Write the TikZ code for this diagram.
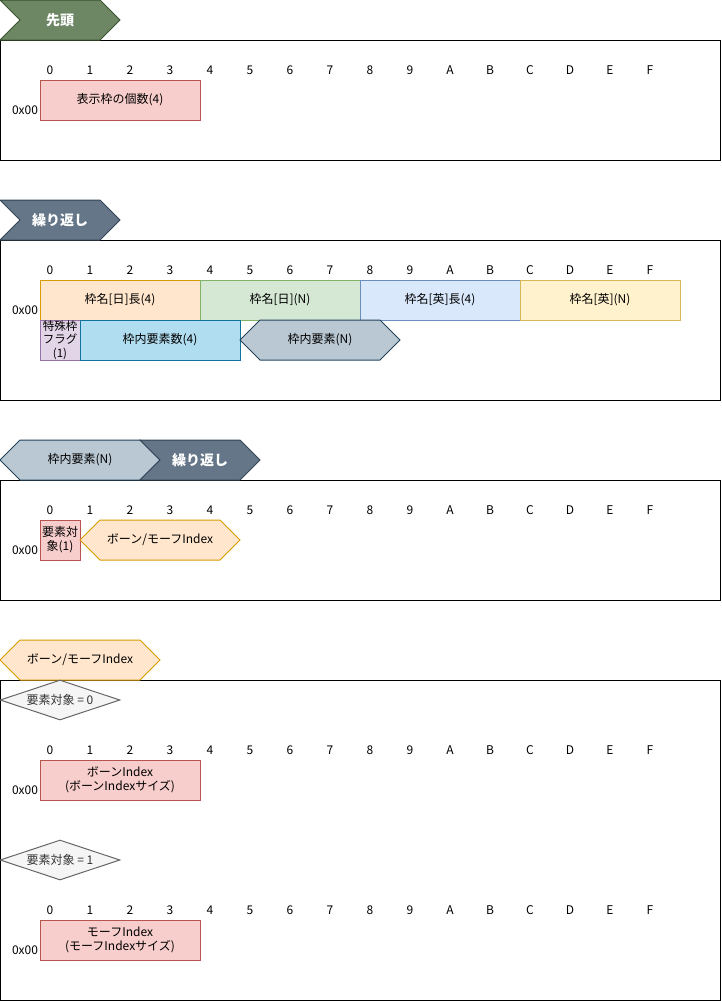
\documentclass[tikz,border=0pt]{standalone}
\usepackage{fontspec}
\setmainfont{Noto Sans CJK JP}
\usetikzlibrary{shapes.geometric}

\definecolor{redfill}{HTML}{F8CECC}
\definecolor{redline}{HTML}{B85450}
\definecolor{orafill}{HTML}{FFE6CC}
\definecolor{oraline}{HTML}{D79B00}
\definecolor{grnfill}{HTML}{D5E8D4}
\definecolor{grnline}{HTML}{82B366}
\definecolor{blufill}{HTML}{DAE8FC}
\definecolor{bluline}{HTML}{6C8EBF}
\definecolor{yelfill}{HTML}{FFF2CC}
\definecolor{yelline}{HTML}{D6B656}
\definecolor{purfill}{HTML}{E1D5E7}
\definecolor{purline}{HTML}{9673A6}
\definecolor{cyafill}{HTML}{B1DDF0}
\definecolor{cyaline}{HTML}{10739E}
\definecolor{gryfill}{HTML}{BAC8D3}
\definecolor{gryline}{HTML}{23445D}
\definecolor{olvfill}{HTML}{6D8764}
\definecolor{olvline}{HTML}{3A5431}
\definecolor{slafill}{HTML}{647687}
\definecolor{slaline}{HTML}{314354}

\begin{document}
\begin{tikzpicture}[x=1pt,y=-1pt,font=\fontsize{12}{14}\selectfont,
    fld/.style={draw,line width=1pt,minimum height=40pt,inner sep=1pt,align=center},
    tagtext/.style={text=white,font=\fontsize{14}{16}\selectfont\bfseries},
    cond/.style={diamond,draw=black!60,fill=black!4,text=black!80,line width=1pt,
        minimum width=120pt,minimum height=40pt,inner sep=0pt,aspect=3}]
    \useasboundingbox (0,0) rectangle (721,1001);

    % ---- 先頭 ----
    \draw[line width=1pt] (0.5,40.5) rectangle (720.5,160.5);
    \draw[fill=olvfill,draw=olvline,line width=1pt] (0,0) -- (100,0) -- (120,20) -- (100,40) -- (0,40) -- (20,20) -- cycle;
    \node[tagtext] (head) at (60,20) {先頭};
    \foreach \c [count=\i from 0] in {0,1,2,3,4,5,6,7,8,9,A,B,C,D,E,F}
        \node (ha\i) at ({50+40*\i},70) {\c};
    \node (adra) at (25,110) {0x00};
    \node[fld,fill=redfill,draw=redline,minimum width=160pt] (count) at (120,100) {表示枠の個数(4)};

    % ---- 繰り返し (表示枠) ----
    \draw[line width=1pt] (0.5,240.5) rectangle (720.5,400.5);
    \draw[fill=slafill,draw=slaline,line width=1pt] (0,200) -- (100,200) -- (120,220) -- (100,240) -- (0,240) -- (20,220) -- cycle;
    \node[tagtext] (rep1) at (60,220) {繰り返し};
    \foreach \c [count=\i from 0] in {0,1,2,3,4,5,6,7,8,9,A,B,C,D,E,F}
        \node (hb\i) at ({50+40*\i},270) {\c};
    \node (adrb) at (25,310) {0x00};
    \node[fld,fill=orafill,draw=oraline,minimum width=160pt] (jlen) at (120,300) {枠名[日]長(4)};
    \node[fld,fill=grnfill,draw=grnline,minimum width=160pt] (jname) at (280,300) {枠名[日](N)};
    \node[fld,fill=blufill,draw=bluline,minimum width=160pt] (elen) at (440,300) {枠名[英]長(4)};
    \node[fld,fill=yelfill,draw=yelline,minimum width=160pt] (ename) at (600,300) {枠名[英](N)};
    \node[fld,fill=purfill,draw=purline,minimum width=40pt,inner sep=0pt,
        font=\fontsize{11.5}{13.5}\selectfont] (flag) at (60,340) {特殊枠\\フラグ\\(1)};
    \node[fld,fill=cyafill,draw=cyaline,minimum width=160pt] (ecount) at (160,340) {枠内要素数(4)};
    \draw[fill=gryfill,draw=gryline,line width=1pt] (240,340) -- (260,320) -- (380,320) -- (400,340) -- (380,360) -- (260,360) -- cycle;
    \node (elems) at (320,340) {枠内要素(N)};

    % ---- 枠内要素 ----
    \draw[line width=1pt] (0.5,480.5) rectangle (720.5,600.5);
    \draw[fill=gryfill,draw=gryline,line width=1pt] (0,460) -- (20,440) -- (140,440) -- (160,460) -- (140,480) -- (20,480) -- cycle;
    \node (elemtag) at (80,460) {枠内要素(N)};
    \draw[fill=slafill,draw=slaline,line width=1pt] (140,440) -- (240,440) -- (260,460) -- (240,480) -- (140,480) -- (160,460) -- cycle;
    \node[tagtext] (rep2) at (200,460) {繰り返し};
    \foreach \c [count=\i from 0] in {0,1,2,3,4,5,6,7,8,9,A,B,C,D,E,F}
        \node (hc\i) at ({50+40*\i},510) {\c};
    \node (adrc) at (25,550) {0x00};
    \node[fld,fill=redfill,draw=redline,minimum width=40pt,inner sep=0pt,
        font=\fontsize{12}{14}\selectfont] (target) at (60,540) {要素対\\象(1)};
    \draw[fill=orafill,draw=oraline,line width=1pt] (80,540) -- (100,520) -- (220,520) -- (240,540) -- (220,560) -- (100,560) -- cycle;
    \node (bmidx) at (160,540) {ボーン/モーフIndex};

    % ---- ボーン/モーフIndex ----
    \draw[line width=1pt] (0.5,680.5) rectangle (720.5,1000.5);
    \draw[fill=orafill,draw=oraline,line width=1pt] (0,660) -- (20,640) -- (140,640) -- (160,660) -- (140,680) -- (20,680) -- cycle;
    \node (bmtag) at (80,660) {ボーン/モーフIndex};
    \node[cond] (cond0) at (60,700) {要素対象 = 0};
    \foreach \c [count=\i from 0] in {0,1,2,3,4,5,6,7,8,9,A,B,C,D,E,F}
        \node (hd\i) at ({50+40*\i},750) {\c};
    \node (adrd) at (25,790) {0x00};
    \node[fld,fill=redfill,draw=redline,minimum width=160pt] (bone) at (120,780) {ボーンIndex\\(ボーンIndexサイズ)};
    \node[cond] (cond1) at (60,860) {要素対象 = 1};
    \foreach \c [count=\i from 0] in {0,1,2,3,4,5,6,7,8,9,A,B,C,D,E,F}
        \node (he\i) at ({50+40*\i},910) {\c};
    \node (adre) at (25,950) {0x00};
    \node[fld,fill=redfill,draw=redline,minimum width=160pt] (morph) at (120,940) {モーフIndex\\(モーフIndexサイズ)};
\end{tikzpicture}
\end{document}
